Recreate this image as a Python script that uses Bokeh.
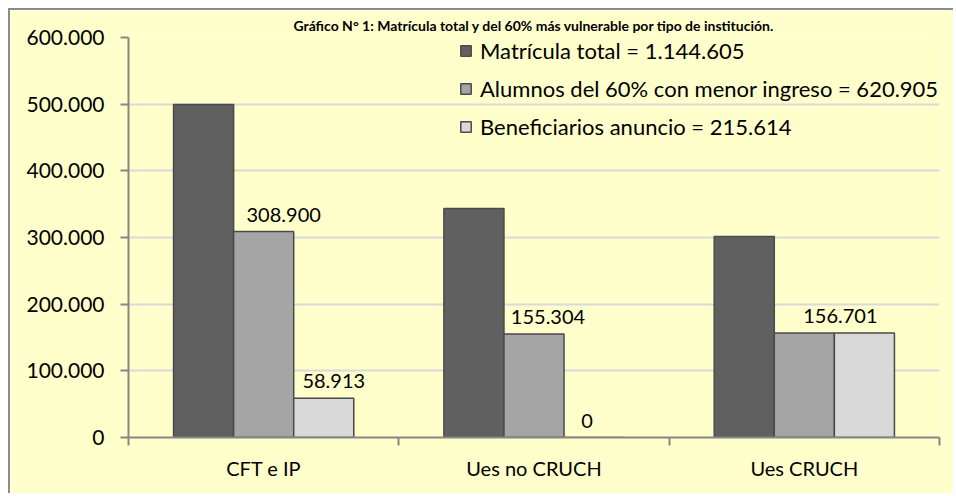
from bokeh.plotting import figure
from bokeh.models import ColumnDataSource, Range1d, FixedTicker, Legend, LegendItem
from bokeh.transform import dodge
from bokeh.core.properties import value
from bokeh.embed import file_html
from bokeh.resources import INLINE

# ---------------- data ----------------
title = "Gráfico N° 1: Matrícula total y del 60% más vulnerable por tipo de institución."
categories = ["CFT e IP", "Ues no CRUCH", "Ues CRUCH"]
matricula_total = [499500, 343500, 301605]
alumnos_60 = [308900, 155304, 156701]
beneficiarios = [58913, 0, 156701]
series_names = ["Matrícula total", "Alumnos del 60% con menor ingreso", "Beneficiarios anuncio"]
y_ticks = [0, 100000, 200000, 300000, 400000, 500000, 600000]
y_tick_labels = ["0", "100.000", "200.000", "300.000", "400.000", "500.000", "600.000"]
# which (series, category) pairs carry a data label
labelled = [(1, 0), (2, 0), (1, 1), (2, 1), (2, 2)]

# ---------------- styles ----------------
FONT = "Lato"
BG = "#FFFFCC"
COLORS = ["#606060", "#A5A5A5", "#D9D9D9"]
OUTLINE = "#4A4A4A"
AXIS = "#868686"
BAR_W = 1 / 4.5
OFFSETS = [-BAR_W, 0.0, BAR_W]
LABEL_DX = [20, 10, 14, -7, -24]


def fmt(n):
    return f"{n:,}".replace(",", ".")


series = [matricula_total, alumnos_60, beneficiarios]
xc = [i + 0.5 for i in range(len(categories))]
src = ColumnDataSource(dict(x=xc, s0=matricula_total, s1=alumnos_60, s2=beneficiarios))

p = figure(width=945, height=485, x_range=Range1d(0, len(categories)),
           y_range=Range1d(y_ticks[0], y_ticks[-1]),
           output_backend="svg", toolbar_location=None,
           min_border_left=118, min_border_top=27, min_border_right=16, min_border_bottom=58,
           background_fill_color=BG, border_fill_color=BG)
p.styles = {"margin-left": "8px", "margin-top": "8px",
            "border-left": "2px solid #8C8C8C", "border-top": "2px solid #8C8C8C"}
p.outline_line_color = None
p.xgrid.visible = False
p.ygrid.grid_line_color = "#D9D9D9"
p.ygrid.grid_line_width = 2

p.title.text = title
p.title.align = "center"
p.title.vertical_align = "top"
p.title.text_font = FONT
p.title.text_font_style = "bold"
p.title.text_font_size = "14px"
p.title.text_color = "#000000"
p.title.standoff = 4

renderers = []
for k in range(3):
    r = p.vbar(x=dodge("x", OFFSETS[k], range=p.x_range), top=f"s{k}", width=BAR_W,
               source=src, fill_color=COLORS[k], line_color=OUTLINE, line_width=1.5)
    renderers.append(r)

# data labels
lx, ly, lt = [], [], []
for (s, c) in labelled:
    lx.append(xc[c] + OFFSETS[s])
    ly.append(series[s][c])
    lt.append(fmt(series[s][c]))
lsrc = ColumnDataSource(dict(x=lx, y=ly, t=lt, dx=LABEL_DX))
p.text(x="x", y="y", text="t", x_offset="dx", y_offset=-17, source=lsrc,
       text_align="center", text_baseline="alphabetic",
       text_font=value(FONT), text_font_size="20px", text_color="#000000")

# y axis
ya = p.yaxis[0]
ya.ticker = FixedTicker(ticks=y_ticks)
ya.major_label_overrides = {t: l for t, l in zip(y_ticks, y_tick_labels)}
ya.axis_line_color = AXIS
ya.axis_line_width = 2
ya.major_tick_line_color = AXIS
ya.major_tick_line_width = 2
ya.major_tick_out = 8
ya.major_tick_in = 0
ya.minor_tick_line_color = None
ya.major_label_text_font = FONT
ya.major_label_text_font_size = "21px"
ya.major_label_text_color = "#000000"
ya.major_label_standoff = 16

# x axis
xa = p.xaxis[0]
xa.ticker = FixedTicker(ticks=xc, minor_ticks=list(range(len(categories) + 1)))
xa.major_label_overrides = {x: c for x, c in zip(xc, categories)}
xa.axis_line_color = AXIS
xa.axis_line_width = 2
xa.major_tick_line_color = None
xa.major_tick_out = 0
xa.major_tick_in = 0
xa.minor_tick_line_color = AXIS
xa.minor_tick_line_width = 2
xa.minor_tick_out = 8
xa.minor_tick_in = 0
xa.major_label_text_font = FONT
xa.major_label_text_font_size = "20px"
xa.major_label_text_color = "#000000"
xa.major_label_standoff = 10

totals = [sum(s) for s in series]
items = [LegendItem(label=f"{series_names[k]} = {fmt(totals[k])}", renderers=[renderers[k]])
         for k in range(3)]
legend = Legend(items=items, location=(331, 297), orientation="vertical",
                glyph_width=13, glyph_height=13, label_standoff=8, spacing=11,
                padding=0, margin=0, border_line_color=None, background_fill_alpha=0,
                label_text_font=FONT, label_text_font_size="22px", label_height=20,
                label_text_color="#000000")
p.add_layout(legend)

open("out.html", "w").write(file_html(p, INLINE))
